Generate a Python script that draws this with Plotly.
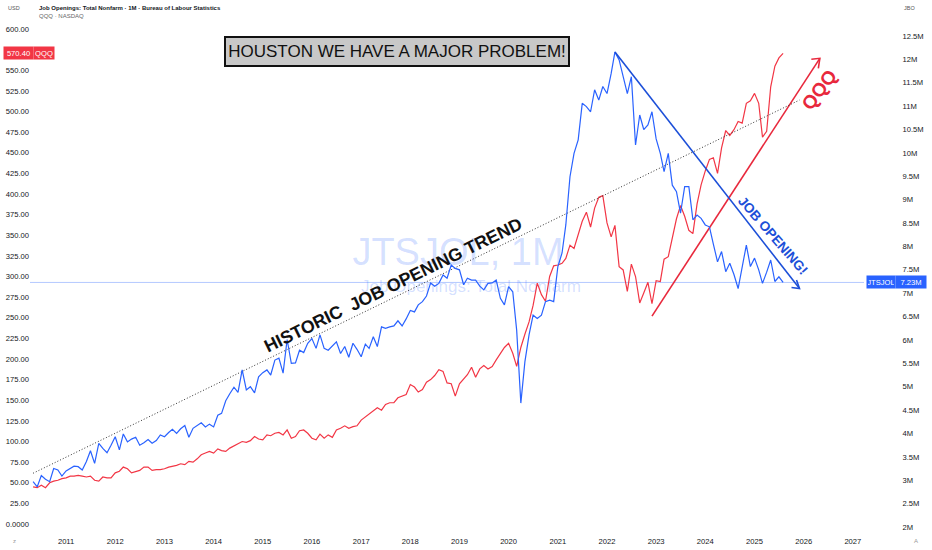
import pandas as pd
import plotly.graph_objects as go

# ---------------- data ----------------
start_month = "2010-05-01"
jts_values = [
    2.97, 2.86, 3.10, 3.02, 2.97, 3.25, 3.22, 3.09,
    3.20, 3.25, 3.30, 3.29, 3.22, 3.40, 3.63, 3.36, 3.79, 3.68, 3.59, 3.75,
    3.93, 3.65, 3.99, 3.82, 3.88, 3.92, 3.75, 3.80, 3.87, 3.79, 3.85, 3.97,
    3.93, 4.02, 4.09, 4.00, 4.10, 4.17, 3.92, 4.11, 4.18, 4.23, 4.14, 4.20,
    4.14, 4.39, 4.43, 4.70, 4.85, 4.99, 4.88, 5.36, 4.93, 5.00, 4.87, 5.21,
    5.30, 5.36, 5.25, 5.57, 5.61, 5.29, 6.01, 5.50, 5.51, 5.78, 5.73, 5.93,
    6.03, 5.82, 6.11, 5.82, 5.78, 5.88, 5.96, 5.71, 5.86, 5.63, 5.93, 5.80,
    5.64, 5.91, 5.82, 6.07, 5.86, 6.28, 6.25, 6.28, 6.30, 6.41, 6.30, 6.45,
    6.63, 6.60, 6.75, 6.82, 6.94, 7.22, 7.15, 7.21, 7.39, 7.32, 7.60, 7.53,
    7.50, 7.18, 7.32, 7.28, 7.28, 7.15, 7.07, 7.21, 7.22, 7.28, 6.89, 6.75,
    7.14, 7.03, 6.21, 4.65, 5.53, 6.11, 6.53, 6.46, 6.53, 6.82, 6.85, 6.82,
    7.57, 7.86, 8.46, 9.49, 9.99, 10.28, 11.06, 10.99, 10.88, 11.35, 11.13, 11.42,
    11.27, 11.70, 12.16, 11.99, 11.63, 11.27, 11.63, 10.17, 10.81, 10.50, 10.60, 10.88,
    10.30, 9.99, 9.60, 9.99, 9.31, 9.17, 8.71, 9.28, 9.28, 8.57, 8.67, 8.60,
    8.46, 8.42, 8.05, 7.67, 7.89, 7.46, 7.64, 7.40, 7.10, 7.55, 8.03, 7.57,
    7.75, 7.50, 7.21, 7.45, 7.71, 7.25, 7.35, 7.23,
]
qqq_values = [
    45, 44, 47, 44, 50, 52, 53, 55,
    56, 58, 58, 59, 58, 57, 58, 53, 52, 57, 56, 56,
    62, 64, 69, 67, 62, 64, 65, 69, 69, 65, 66, 66,
    67, 69, 70, 71, 73, 72, 76, 75, 79, 84, 86, 88,
    86, 91, 89, 88, 92, 95, 97, 100, 99, 101, 106, 103,
    102, 108, 107, 110, 111, 108, 114, 104, 106, 113, 114, 110,
    104, 102, 109, 104, 108, 105, 114, 116, 119, 116, 118, 119,
    126, 130, 133, 137, 141, 138, 145, 147, 147, 153, 155, 157,
    169, 166, 160, 163, 172, 175, 180, 187, 185, 171, 170, 155,
    170, 176, 181, 190, 178, 188, 192, 188, 191, 199, 207, 214,
    219, 207, 191, 214, 230, 245, 265, 292, 278, 270, 300, 313,
    314, 316, 322, 338, 334, 352, 367, 378, 360, 383, 396, 398,
    365, 348, 362, 312, 308, 282, 315, 300, 268, 280, 293, 267,
    295, 294, 321, 324, 348, 370, 386, 373, 356, 352, 388, 411,
    428, 442, 444, 425, 456, 477, 471, 478, 488, 486, 510, 513,
    522, 510, 469, 476, 530, 555, 565, 570.40,
]
months = pd.date_range(start_month, periods=len(jts_values), freq="MS")

qqq_last = 570.40
jts_last = 7.23

# drawings
trend_dates = ["2010-05-01", "2025-12-01"]
trend_vals = [3.15, 11.13]          # on JTSJOL scale
blue_arrow_dates = ["2022-03-01", "2025-12-01"]
blue_arrow_vals = [12.16, 7.10]     # on JTSJOL scale
red_arrow_dates = ["2022-12-01", "2026-05-01"]
red_arrow_vals = [252, 564.5]       # on QQQ scale

year_ticks = list(range(2011, 2028))
left_ticks = [v * 25 for v in range(0, 25)]
right_ticks = [2 + 0.5 * k for k in range(0, 22)]

left_labels = ["0.0000" if v == 0 else f"{v:.2f}" for v in left_ticks]
right_labels = [(f"{v:g}M") for v in right_ticks]

BLUE = "#2962ff"
RED = "#f23645"
TXT = "#131722"
FONT = "Liberation Sans, Arial, sans-serif"
CLEAR = "rgba(0,0,0,0)"

fig = go.Figure()

# watermark (drawn under the series)
fig.add_trace(go.Scatter(
    x=["2018-12-21"], y=[326], mode="text", text=["JTSJOL, 1M"],
    textfont=dict(size=38, color="rgba(41,98,255,0.20)", family=FONT),
    hoverinfo="skip", showlegend=False))
fig.add_trace(go.Scatter(
    x=["2019-03-28"], y=[286], mode="text", text=["Job Openings: Total Nonfarm"],
    textfont=dict(size=17, color="rgba(41,98,255,0.20)", family=FONT),
    hoverinfo="skip", showlegend=False))

fig.add_trace(go.Scatter(x=months, y=qqq_values, mode="lines",
                         line=dict(color=RED, width=1.2), yaxis="y",
                         hoverinfo="skip", showlegend=False))
fig.add_trace(go.Scatter(x=red_arrow_dates, y=red_arrow_vals, mode="lines",
                         line=dict(color="#e8283c", width=1.6), yaxis="y",
                         hoverinfo="skip", showlegend=False))

fig.add_trace(go.Scatter(x=trend_dates, y=trend_vals, mode="lines",
                         line=dict(color="#333333", width=1, dash="1px,2px"), yaxis="y2",
                         hoverinfo="skip", showlegend=False))
fig.add_trace(go.Scatter(x=months, y=jts_values, mode="lines",
                         line=dict(color=BLUE, width=1.2), yaxis="y2",
                         hoverinfo="skip", showlegend=False))
fig.add_trace(go.Scatter(x=blue_arrow_dates, y=blue_arrow_vals, mode="lines",
                         line=dict(color="#1c4fd8", width=1.6), yaxis="y2",
                         hoverinfo="skip", showlegend=False))

shapes = [
    dict(type="line", xref="paper", x0=0, x1=1, yref="y2", y0=jts_last, y1=jts_last,
         line=dict(color="rgba(41,98,255,0.35)", width=1), layer="below"),
    dict(type="path", xref="x", yref="y2", xsizemode="pixel", ysizemode="pixel",
         xanchor=blue_arrow_dates[1], yanchor=blue_arrow_vals[1],
         path="M -8,1 L 0,0 L -3,8.5", line=dict(color="#1c4fd8", width=1.6)),
    dict(type="path", xref="x", yref="y", xsizemode="pixel", ysizemode="pixel",
         xanchor=red_arrow_dates[1], yanchor=red_arrow_vals[1],
         path="M -8.5,-1 L 0,0 L -1.5,-10", line=dict(color="#e8283c", width=1.6)),
]

ann = []
# title box
ann.append(dict(xref="paper", yref="paper", x=0.440, y=0.903, xanchor="center",
                yanchor="middle", showarrow=False,
                text="HOUSTON WE HAVE A MAJOR PROBLEM!", width=340, height=25,
                bgcolor="#c8c8c8", bordercolor="#111111", borderwidth=2, borderpad=1,
                font=dict(size=17, color="#111111", family=FONT)))
ann.append(dict(xref="x", yref="y2", x="2017-08-28", y=7.175, showarrow=False,
                text="HISTORIC\u00a0 JOB OPENING TREND", textangle=-26,
                font=dict(size=17.8, color="#111111", family=FONT, weight="bold")))
ann.append(dict(xref="x", yref="y2", x="2025-05-18", y=8.24, showarrow=False,
                text="JOB OPENING!", textangle=49,
                font=dict(size=13.5, color="#1c4fd8", family=FONT, weight="bold")))
ann.append(dict(xref="x", yref="y", x="2026-04-21", y=526, showarrow=False,
                text="QQQ", textangle=-53,
                font=dict(size=19, color="#e8283c", family=FONT, weight="bold")))

# header texts
ann.append(dict(xref="paper", yref="paper", x=-0.0288, y=0.985, xanchor="left",
                yanchor="middle", showarrow=False, text="USD",
                font=dict(size=5.5, color="#555", family=FONT)))
ann.append(dict(xref="paper", yref="paper", x=0.0084, y=0.985, xanchor="left",
                yanchor="middle", showarrow=False,
                text="Job Openings: Total Nonfarm · 1M · Bureau of Labour Statistics",
                font=dict(size=6, color=TXT, family=FONT, weight="bold")))
ann.append(dict(xref="paper", yref="paper", x=0.0084, y=0.969, xanchor="left",
                yanchor="middle", showarrow=False, text="QQQ · NASDAQ",
                font=dict(size=6, color="#666", family=FONT)))
ann.append(dict(xref="paper", yref="paper", x=1.0455, y=0.985, xanchor="left",
                yanchor="middle", showarrow=False, text="JBO",
                font=dict(size=5.5, color="#555", family=FONT)))
ann.append(dict(xref="paper", yref="paper", x=-0.023, y=-0.0208, xanchor="left",
                yanchor="middle", showarrow=False, text="z",
                font=dict(size=6, color="#999", family=FONT)))
ann.append(dict(xref="paper", yref="paper", x=1.0575, y=-0.0208, xanchor="left",
                yanchor="middle", showarrow=False, text="A",
                font=dict(size=6, color="#999", family=FONT)))

# price badges
ann.append(dict(xref="paper", yref="y", x=-0.0327, y=qqq_last, xanchor="left",
                yanchor="middle", showarrow=False, text=f"{qqq_last:.2f}", width=27,
                height=10, borderpad=1, bgcolor=RED,
                font=dict(size=7.6, color="white", family=FONT)))
ann.append(dict(xref="paper", yref="y", x=0.0036, y=qqq_last, xanchor="left",
                yanchor="middle", showarrow=False, text="QQQ", width=18, height=10,
                borderpad=1, bgcolor=RED, font=dict(size=7.6, color="white", family=FONT)))
ann.append(dict(xref="paper", yref="y2", x=1.0024, y=jts_last, xanchor="left",
                yanchor="middle", showarrow=False, text="JTSJOL", width=26, height=10,
                borderpad=1, bgcolor=BLUE, font=dict(size=7.6, color="white", family=FONT)))
ann.append(dict(xref="paper", yref="y2", x=1.0372, y=jts_last, xanchor="left",
                yanchor="middle", showarrow=False, text=f"{jts_last:.2f}M", width=28,
                height=10, borderpad=1, bgcolor=BLUE,
                font=dict(size=7.6, color="white", family=FONT)))

fig.update_layout(
    template="none",
    width=932, height=550,
    margin=dict(l=30, r=68, t=0, b=20, pad=0),
    paper_bgcolor="white", plot_bgcolor="white",
    font=dict(family=FONT, color=TXT),
    showlegend=False,
    hovermode=False,
    xaxis=dict(type="date", range=["2010-04-08", "2027-03-25"],
               tickvals=[f"{y}-01-01" for y in year_ticks],
               ticktext=[str(y) for y in year_ticks],
               showgrid=False, zeroline=False, showline=False,
               ticks="outside", ticklen=4, tickcolor=CLEAR,
               tickfont=dict(size=7.6, color=TXT), automargin=False),
    yaxis=dict(range=[-7.27, 635.2], tickvals=left_ticks, ticktext=left_labels,
               side="left", showgrid=False, zeroline=False, showline=False, ticks="",
               tickfont=dict(size=7.6, color=TXT), automargin=False),
    yaxis2=dict(range=[1.936, 13.27], tickvals=right_ticks, ticktext=right_labels,
                side="right", overlaying="y", showgrid=False, zeroline=False,
                showline=False, ticks="outside", ticklen=36, tickcolor=CLEAR,
                tickfont=dict(size=7.6, color=TXT), automargin=False),
    shapes=shapes,
    annotations=ann,
)

fig.write_html("out.html", config={"displayModeBar": False},
               post_script="document.body.style.margin='0';document.body.style.padding='0';")
